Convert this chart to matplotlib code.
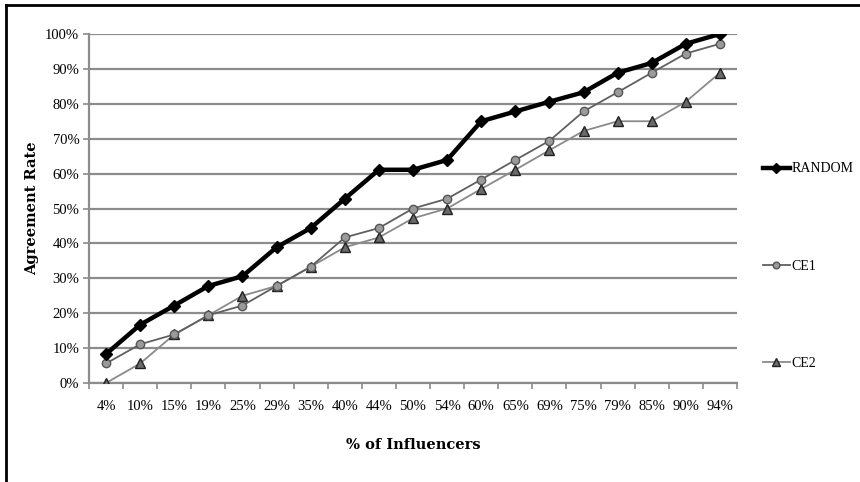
import matplotlib
matplotlib.use("Agg")
import matplotlib.pyplot as plt
from matplotlib.lines import Line2D
from matplotlib.ticker import FixedLocator, NullFormatter, PercentFormatter

# Share of nodes chosen as influencers (x-axis categories)
categories = ["4%", "10%", "15%", "19%", "25%", "29%", "35%", "40%", "44%", "50%",
              "54%", "60%", "65%", "69%", "75%", "79%", "85%", "90%", "94%"]

# Agreement rate (%) for each selection strategy
random_vals = [8.3, 16.7, 22.2, 27.8, 30.6, 38.9, 44.4, 52.8, 61.1, 61.1,
               63.9, 75.0, 77.8, 80.6, 83.3, 88.9, 91.7, 97.2, 100.0]
ce1_vals = [5.6, 11.1, 13.9, 19.4, 22.2, 27.8, 33.3, 41.7, 44.4, 50.0,
            52.8, 58.3, 63.9, 69.4, 77.8, 83.3, 88.9, 94.4, 97.2]
ce2_vals = [0.0, 5.6, 13.9, 19.4, 25.0, 27.8, 33.3, 38.9, 41.7, 47.2,
            50.0, 55.6, 61.1, 66.7, 72.2, 75.0, 75.0, 80.6, 88.9]

series_names = ["RANDOM", "CE1", "CE2"]

plt.rcParams["font.family"] = ["Liberation Serif", "DejaVu Serif"]

fig = plt.figure(figsize=(8.6, 4.82), dpi=100)
ax = fig.add_axes([89 / 860, 99 / 482, 648 / 860, 349 / 482])

x = list(range(len(categories)))

l1, = ax.plot(x, random_vals, color="black", lw=3.2, marker="D", ms=6.5,
              mfc="black", mec="black", zorder=5)
l2, = ax.plot(x, ce1_vals, color="#606060", lw=1.3, marker="o", ms=6,
              mfc="#9a9a9a", mec="#555555", mew=1.0, zorder=4)
l3, = ax.plot(x, ce2_vals, color="#8a8a8a", lw=1.3, marker="^", ms=7.5,
              mfc="#6a6a6a", mec="#222222", mew=1.0, zorder=3)

ax.set_xlim(-0.5, len(categories) - 0.5)
ax.set_ylim(0, 100)

# y axis: gridlines every 10%
ax.set_yticks(range(0, 101, 10))
ax.yaxis.set_major_formatter(PercentFormatter(decimals=0))
ax.grid(axis="y", color="#8c8c8c", lw=1.6)
ax.set_axisbelow(True)

# x axis: labels at category centers, tick marks between categories
ax.xaxis.set_major_locator(FixedLocator(x))
ax.set_xticklabels(categories)
ax.xaxis.set_minor_locator(FixedLocator([i - 0.5 for i in range(len(categories) + 1)]))
ax.xaxis.set_minor_formatter(NullFormatter())
ax.tick_params(axis="x", which="major", length=0, pad=12, labelsize=10.5)
ax.tick_params(axis="x", which="minor", length=4, color="#8c8c8c", width=1.2)
ax.tick_params(axis="y", length=4, color="#8c8c8c", width=1.2, pad=3, labelsize=10.5)

for side in ("top", "right"):
    ax.spines[side].set_visible(False)
for side in ("left", "bottom"):
    ax.spines[side].set_color("#8c8c8c")
    ax.spines[side].set_linewidth(1.6)

label_font = dict(family=["DejaVu Serif"], fontsize=10.5, fontweight="bold")
ax.set_xlabel("% of Influencers", labelpad=18, **label_font)
ax.set_ylabel("Agreement Rate", labelpad=4, **label_font)

leg = fig.legend([l1, l2, l3], series_names, loc="upper left",
                 bbox_to_anchor=(750 / 860, 1 - 150 / 482), frameon=False,
                 handlelength=1.95, handletextpad=0.15, labelspacing=6.05,
                 fontsize=10, markerscale=0.8)

# Frame lines around the figure region
fig.add_artist(Line2D([6 / 860, 6 / 860], [0, 1 - 5 / 482], color="black", lw=2,
                      transform=fig.transFigure))
fig.add_artist(Line2D([6 / 860, 1], [1 - 5 / 482, 1 - 5 / 482], color="black", lw=2,
                      transform=fig.transFigure))

fig.savefig("out.png", dpi=100)
